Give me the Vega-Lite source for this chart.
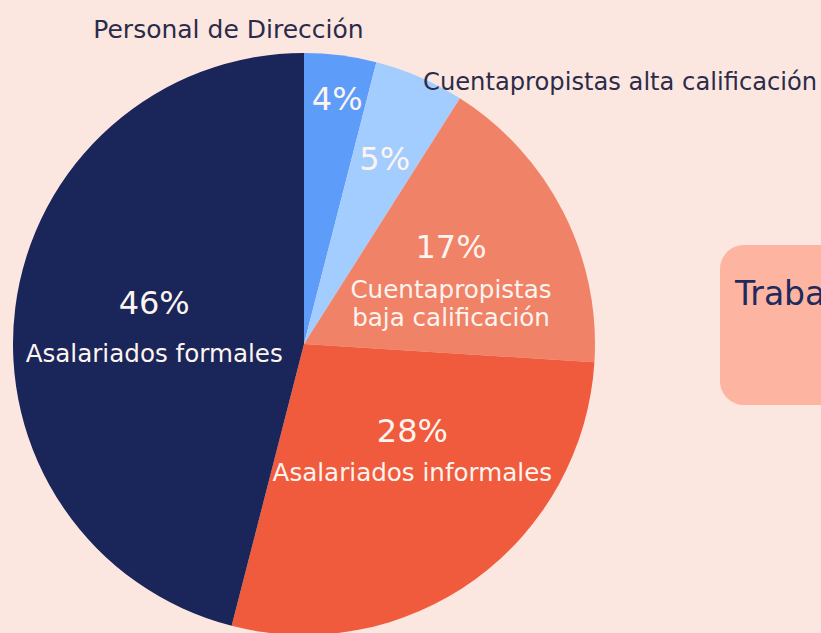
{
  "$schema": "https://vega.github.io/schema/vega-lite/v6.json",
  "width": 821,
  "height": 633,
  "autosize": "none",
  "padding": 0,
  "background": "#fce7e0",
  "view": {"stroke": null},
  "data": {
    "values": [
      {"cat": "Personal de Dirección", "value": 4, "order": 1, "pct": "4%", "name": ""},
      {"cat": "Cuentapropistas alta calificación", "value": 5, "order": 2, "pct": "5%", "name": ""},
      {"cat": "Cuentapropistas baja calificación", "value": 17, "order": 3, "pct": "17%", "name": "Cuentapropistas\nbaja calificación"},
      {"cat": "Asalariados informales", "value": 28, "order": 4, "pct": "28%", "name": "Asalariados informales"},
      {"cat": "Asalariados formales", "value": 46, "order": 5, "pct": "46%", "name": "Asalariados formales"}
    ]
  },
  "layer": [
    {
      "mark": {"type": "arc", "outerRadius": 291, "x": 304, "y": 344},
      "encoding": {
        "theta": {"field": "value", "type": "quantitative", "stack": true},
        "order": {"field": "order", "type": "quantitative", "sort": "ascending"},
        "color": {
          "field": "cat",
          "type": "nominal",
          "scale": {
            "domain": ["Personal de Dirección", "Cuentapropistas alta calificación", "Cuentapropistas baja calificación", "Asalariados informales", "Asalariados formales"],
            "range": ["#5d9cf8", "#a3cdff", "#f08367", "#f05b3d", "#1a2559"]
          },
          "legend": null
        }
      }
    },
    {
      "mark": {
        "type": "text", "x": 304, "y": 344, "font": "DejaVu Sans", "fontSize": 32, "color": "#fdf4f0", "baseline": "alphabetic", "align": "center",
        "dx": {"expr": "datum.cat === 'Asalariados informales' ? 19 : (datum.cat === 'Cuentapropistas alta calificación' ? 10 : (datum.cat === 'Personal de Dirección' ? 5 : 0))"},
        "dy": {"expr": "datum.cat === 'Asalariados informales' ? -25 : -11"}
      },
      "encoding": {
        "theta": {"field": "value", "type": "quantitative", "stack": true},
        "order": {"field": "order", "type": "quantitative", "sort": "ascending"},
        "detail": {"field": "cat", "type": "nominal"},
        "radius": {"field": "value", "type": "quantitative", "scale": {"type": "linear", "domain": [4, 5, 17, 28, 46], "range": [225, 178, 165, 152, 151], "zero": false, "nice": false}},
        "text": {"field": "pct"}
      }
    },
    {
      "mark": {
        "type": "text", "x": 304, "y": 344, "font": "DejaVu Sans", "fontSize": 24.6, "lineHeight": 28, "lineBreak": "\n", "color": "#fdf4f0", "baseline": "top", "align": "center",
        "dx": {"expr": "datum.cat === 'Asalariados informales' ? 19 : 0"},
        "dy": {"expr": "datum.cat === 'Asalariados informales' ? -5 : (datum.cat === 'Asalariados formales' ? 18 : 10)"}
      },
      "encoding": {
        "theta": {"field": "value", "type": "quantitative", "stack": true},
        "order": {"field": "order", "type": "quantitative", "sort": "ascending"},
        "detail": {"field": "cat", "type": "nominal"},
        "radius": {"field": "value", "type": "quantitative", "scale": {"type": "linear", "domain": [4, 5, 17, 28, 46], "range": [225, 178, 165, 152, 151], "zero": false, "nice": false}},
        "text": {"field": "name"}
      }
    },
    {
      "mark": {"type": "text", "x": 304, "y": 344, "radius": 308, "dx": 21, "font": "DejaVu Sans", "fontSize": 25, "color": "#2c2c4a", "baseline": "alphabetic", "align": "right"},
      "encoding": {
        "theta": {"field": "value", "type": "quantitative", "stack": true},
        "order": {"field": "order", "type": "quantitative", "sort": "ascending"},
        "detail": {"field": "cat", "type": "nominal"},
        "text": {"condition": {"test": "datum.cat === 'Personal de Dirección'", "field": "cat"}, "value": ""}
      }
    },
    {
      "mark": {"type": "text", "x": 304, "y": 344, "radius": 277, "dx": 9, "font": "DejaVu Sans", "fontSize": 24.2, "color": "#2c2c4a", "baseline": "alphabetic", "align": "left"},
      "encoding": {
        "theta": {"field": "value", "type": "quantitative", "stack": true},
        "order": {"field": "order", "type": "quantitative", "sort": "ascending"},
        "detail": {"field": "cat", "type": "nominal"},
        "text": {"condition": {"test": "datum.cat === 'Cuentapropistas alta calificación'", "field": "cat"}, "value": ""}
      }
    },
    {
      "data": {"values": [{"label": "Trabajadores"}]},
      "layer": [
        {
          "mark": {"type": "rect", "x": 720, "x2": 900, "y": 245, "y2": 405, "cornerRadius": 24, "color": "#fdb5a1"},
          "encoding": {}
        },
        {
          "mark": {"type": "text", "x": 735, "y": 305, "font": "DejaVu Sans", "fontSize": 33, "color": "#1e2a5e", "align": "left", "baseline": "alphabetic"},
          "encoding": {"text": {"field": "label"}}
        }
      ]
    }
  ]
}
